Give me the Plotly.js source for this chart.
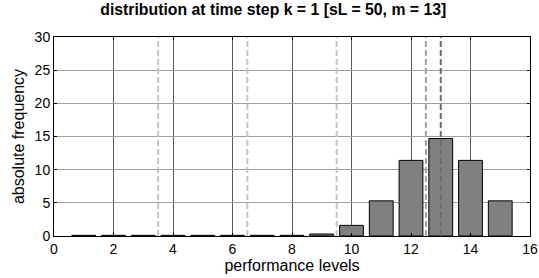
<!DOCTYPE html>
<html><head><meta charset="utf-8">
<script src="https://cdn.plot.ly/plotly-3.0.1.min.js"></script>
<style>html,body{margin:0;padding:0;background:#fff;}</style>
</head><body><div id="c" style="width:539px;height:278px;"></div>
<script>
const levels = [1,2,3,4,5,6,7,8,9,10,11,12,13,14,15];
const freq = [0.1,0.1,0.1,0.1,0.1,0.1,0.1,0.1,0.3,1.6,5.3,11.4,14.7,11.4,5.3];
const lightLines = [3.5, 6.5, 9.5];
const midLine = 12.5;
const darkLine = 13;
const titleText = 'distribution at time step k = 1 [sL = 50, m = 13]';

const traces = [{
  type:'bar', x:levels, y:freq, width:0.8,
  marker:{color:'#808080', line:{color:'#000', width:1}},
  hoverinfo:'none'
}];
lightLines.forEach(v=>traces.push({type:'scatter',mode:'lines',x:[v,v],y:[0,30],line:{color:'#c4c4c4',width:2,dash:'6px,3px'},hoverinfo:'none'}));
traces.push({type:'scatter',mode:'lines',x:[midLine,midLine],y:[0,30],line:{color:'#a0a0a0',width:2,dash:'6px,3px'},hoverinfo:'none'});
traces.push({type:'scatter',mode:'lines',x:[darkLine,darkLine],y:[0,30],line:{color:'#6c6c6c',width:2,dash:'6px,3px'},hoverinfo:'none'});

const layout = {
  width:539, height:278, showlegend:false,
  paper_bgcolor:'#fff', plot_bgcolor:'#fff',
  margin:{l:54,r:9,t:37,b:42},
  font:{family:'Liberation Sans, Arial, sans-serif', color:'#000', size:14},
  title:{text:'<b>'+titleText+'</b>', font:{size:15.8}, x:0.507, xanchor:'center', y:0.985, yanchor:'top'},
  xaxis:{range:[0,16], tickvals:[0,2,4,6,8,10,12,14,16], showgrid:true, gridcolor:'#5a5a5a', gridwidth:1,
    showline:true, linecolor:'#000', linewidth:1, mirror:'ticks', ticks:'inside', ticklen:3, tickcolor:'#000',
    zeroline:false, title:{text:'performance levels', font:{size:16}, standoff:3}, tickfont:{size:14}},
  yaxis:{range:[0,30], tickvals:[0,5,10,15,20,25,30], showgrid:true, gridcolor:'#a0a0a0', gridwidth:1,
    showline:true, linecolor:'#000', linewidth:1, mirror:'ticks', ticks:'inside', ticklen:3, tickcolor:'#000',
    zeroline:false, title:{text:'absolute frequency', font:{size:16}, standoff:6}, tickfont:{size:14}},
  bargap:0.2
};
Plotly.newPlot('c', traces, layout, {staticPlot:true});
</script></body></html>
